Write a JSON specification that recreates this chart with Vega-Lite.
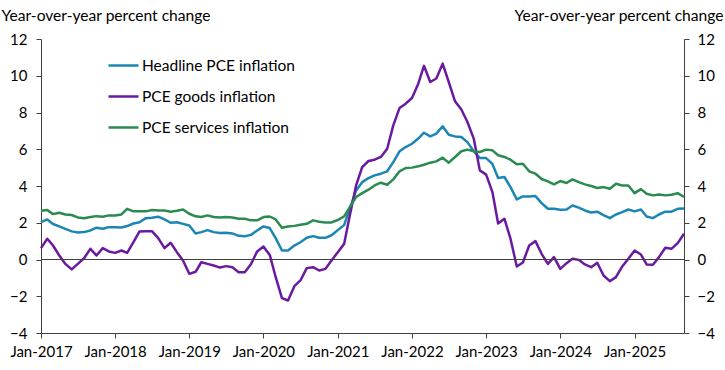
{
  "$schema": "https://vega.github.io/schema/vega-lite/v6.json",
  "width": 643,
  "height": 294,
  "autosize": {"type": "none"},
  "padding": {"left": 41, "top": 39, "right": 41, "bottom": 37},
  "background": "white",
  "config": {"view": {"stroke": null}, "font": "Lato"},
  "data": {"values": [
    {"date": "2017-01-01", "Headline PCE inflation": 2.03, "PCE goods inflation": 0.62, "PCE services inflation": 2.65},
    {"date": "2017-02-01", "Headline PCE inflation": 2.18, "PCE goods inflation": 1.13, "PCE services inflation": 2.69},
    {"date": "2017-03-01", "Headline PCE inflation": 1.93, "PCE goods inflation": 0.76, "PCE services inflation": 2.47},
    {"date": "2017-04-01", "Headline PCE inflation": 1.80, "PCE goods inflation": 0.22, "PCE services inflation": 2.54},
    {"date": "2017-05-01", "Headline PCE inflation": 1.67, "PCE goods inflation": -0.24, "PCE services inflation": 2.45},
    {"date": "2017-06-01", "Headline PCE inflation": 1.53, "PCE goods inflation": -0.54, "PCE services inflation": 2.42},
    {"date": "2017-07-01", "Headline PCE inflation": 1.47, "PCE goods inflation": -0.24, "PCE services inflation": 2.29},
    {"date": "2017-08-01", "Headline PCE inflation": 1.49, "PCE goods inflation": 0.07, "PCE services inflation": 2.25},
    {"date": "2017-09-01", "Headline PCE inflation": 1.58, "PCE goods inflation": 0.58, "PCE services inflation": 2.31},
    {"date": "2017-10-01", "Headline PCE inflation": 1.73, "PCE goods inflation": 0.22, "PCE services inflation": 2.36},
    {"date": "2017-11-01", "Headline PCE inflation": 1.67, "PCE goods inflation": 0.62, "PCE services inflation": 2.33},
    {"date": "2017-12-01", "Headline PCE inflation": 1.76, "PCE goods inflation": 0.44, "PCE services inflation": 2.40},
    {"date": "2018-01-01", "Headline PCE inflation": 1.76, "PCE goods inflation": 0.36, "PCE services inflation": 2.40},
    {"date": "2018-02-01", "Headline PCE inflation": 1.74, "PCE goods inflation": 0.49, "PCE services inflation": 2.45},
    {"date": "2018-03-01", "Headline PCE inflation": 1.82, "PCE goods inflation": 0.36, "PCE services inflation": 2.76},
    {"date": "2018-04-01", "Headline PCE inflation": 1.96, "PCE goods inflation": 0.94, "PCE services inflation": 2.62},
    {"date": "2018-05-01", "Headline PCE inflation": 2.03, "PCE goods inflation": 1.53, "PCE services inflation": 2.62},
    {"date": "2018-06-01", "Headline PCE inflation": 2.25, "PCE goods inflation": 1.54, "PCE services inflation": 2.62},
    {"date": "2018-07-01", "Headline PCE inflation": 2.27, "PCE goods inflation": 1.54, "PCE services inflation": 2.69},
    {"date": "2018-08-01", "Headline PCE inflation": 2.33, "PCE goods inflation": 1.16, "PCE services inflation": 2.67},
    {"date": "2018-09-01", "Headline PCE inflation": 2.18, "PCE goods inflation": 0.62, "PCE services inflation": 2.67},
    {"date": "2018-10-01", "Headline PCE inflation": 2.00, "PCE goods inflation": 0.91, "PCE services inflation": 2.60},
    {"date": "2018-11-01", "Headline PCE inflation": 2.03, "PCE goods inflation": 0.40, "PCE services inflation": 2.65},
    {"date": "2018-12-01", "Headline PCE inflation": 1.94, "PCE goods inflation": -0.05, "PCE services inflation": 2.72},
    {"date": "2019-01-01", "Headline PCE inflation": 1.85, "PCE goods inflation": -0.78, "PCE services inflation": 2.49},
    {"date": "2019-02-01", "Headline PCE inflation": 1.42, "PCE goods inflation": -0.67, "PCE services inflation": 2.35},
    {"date": "2019-03-01", "Headline PCE inflation": 1.49, "PCE goods inflation": -0.15, "PCE services inflation": 2.31},
    {"date": "2019-04-01", "Headline PCE inflation": 1.60, "PCE goods inflation": -0.24, "PCE services inflation": 2.40},
    {"date": "2019-05-01", "Headline PCE inflation": 1.49, "PCE goods inflation": -0.33, "PCE services inflation": 2.31},
    {"date": "2019-06-01", "Headline PCE inflation": 1.44, "PCE goods inflation": -0.44, "PCE services inflation": 2.29},
    {"date": "2019-07-01", "Headline PCE inflation": 1.45, "PCE goods inflation": -0.36, "PCE services inflation": 2.31},
    {"date": "2019-08-01", "Headline PCE inflation": 1.42, "PCE goods inflation": -0.42, "PCE services inflation": 2.29},
    {"date": "2019-09-01", "Headline PCE inflation": 1.29, "PCE goods inflation": -0.69, "PCE services inflation": 2.22},
    {"date": "2019-10-01", "Headline PCE inflation": 1.27, "PCE goods inflation": -0.69, "PCE services inflation": 2.22},
    {"date": "2019-11-01", "Headline PCE inflation": 1.34, "PCE goods inflation": -0.24, "PCE services inflation": 2.13},
    {"date": "2019-12-01", "Headline PCE inflation": 1.58, "PCE goods inflation": 0.44, "PCE services inflation": 2.13},
    {"date": "2020-01-01", "Headline PCE inflation": 1.80, "PCE goods inflation": 0.71, "PCE services inflation": 2.31},
    {"date": "2020-02-01", "Headline PCE inflation": 1.71, "PCE goods inflation": 0.25, "PCE services inflation": 2.34},
    {"date": "2020-03-01", "Headline PCE inflation": 1.16, "PCE goods inflation": -0.95, "PCE services inflation": 2.18},
    {"date": "2020-04-01", "Headline PCE inflation": 0.49, "PCE goods inflation": -2.10, "PCE services inflation": 1.73},
    {"date": "2020-05-01", "Headline PCE inflation": 0.49, "PCE goods inflation": -2.23, "PCE services inflation": 1.80},
    {"date": "2020-06-01", "Headline PCE inflation": 0.76, "PCE goods inflation": -1.45, "PCE services inflation": 1.83},
    {"date": "2020-07-01", "Headline PCE inflation": 0.94, "PCE goods inflation": -1.14, "PCE services inflation": 1.89},
    {"date": "2020-08-01", "Headline PCE inflation": 1.18, "PCE goods inflation": -0.47, "PCE services inflation": 1.94},
    {"date": "2020-09-01", "Headline PCE inflation": 1.27, "PCE goods inflation": -0.42, "PCE services inflation": 2.13},
    {"date": "2020-10-01", "Headline PCE inflation": 1.18, "PCE goods inflation": -0.60, "PCE services inflation": 2.05},
    {"date": "2020-11-01", "Headline PCE inflation": 1.18, "PCE goods inflation": -0.51, "PCE services inflation": 2.02},
    {"date": "2020-12-01", "Headline PCE inflation": 1.32, "PCE goods inflation": -0.05, "PCE services inflation": 2.02},
    {"date": "2021-01-01", "Headline PCE inflation": 1.60, "PCE goods inflation": 0.40, "PCE services inflation": 2.15},
    {"date": "2021-02-01", "Headline PCE inflation": 1.87, "PCE goods inflation": 0.85, "PCE services inflation": 2.35},
    {"date": "2021-03-01", "Headline PCE inflation": 2.76, "PCE goods inflation": 2.40, "PCE services inflation": 2.85},
    {"date": "2021-04-01", "Headline PCE inflation": 3.76, "PCE goods inflation": 4.03, "PCE services inflation": 3.40},
    {"date": "2021-05-01", "Headline PCE inflation": 4.21, "PCE goods inflation": 5.03, "PCE services inflation": 3.61},
    {"date": "2021-06-01", "Headline PCE inflation": 4.43, "PCE goods inflation": 5.36, "PCE services inflation": 3.80},
    {"date": "2021-07-01", "Headline PCE inflation": 4.58, "PCE goods inflation": 5.43, "PCE services inflation": 4.03},
    {"date": "2021-08-01", "Headline PCE inflation": 4.67, "PCE goods inflation": 5.58, "PCE services inflation": 4.18},
    {"date": "2021-09-01", "Headline PCE inflation": 4.80, "PCE goods inflation": 6.03, "PCE services inflation": 4.07},
    {"date": "2021-10-01", "Headline PCE inflation": 5.30, "PCE goods inflation": 7.30, "PCE services inflation": 4.36},
    {"date": "2021-11-01", "Headline PCE inflation": 5.89, "PCE goods inflation": 8.25, "PCE services inflation": 4.80},
    {"date": "2021-12-01", "Headline PCE inflation": 6.12, "PCE goods inflation": 8.48, "PCE services inflation": 4.98},
    {"date": "2022-01-01", "Headline PCE inflation": 6.30, "PCE goods inflation": 8.79, "PCE services inflation": 5.00},
    {"date": "2022-02-01", "Headline PCE inflation": 6.58, "PCE goods inflation": 9.57, "PCE services inflation": 5.07},
    {"date": "2022-03-01", "Headline PCE inflation": 6.90, "PCE goods inflation": 10.54, "PCE services inflation": 5.16},
    {"date": "2022-04-01", "Headline PCE inflation": 6.70, "PCE goods inflation": 9.66, "PCE services inflation": 5.27},
    {"date": "2022-05-01", "Headline PCE inflation": 6.85, "PCE goods inflation": 9.85, "PCE services inflation": 5.34},
    {"date": "2022-06-01", "Headline PCE inflation": 7.25, "PCE goods inflation": 10.66, "PCE services inflation": 5.54},
    {"date": "2022-07-01", "Headline PCE inflation": 6.79, "PCE goods inflation": 9.66, "PCE services inflation": 5.27},
    {"date": "2022-08-01", "Headline PCE inflation": 6.70, "PCE goods inflation": 8.61, "PCE services inflation": 5.58},
    {"date": "2022-09-01", "Headline PCE inflation": 6.67, "PCE goods inflation": 8.16, "PCE services inflation": 5.89},
    {"date": "2022-10-01", "Headline PCE inflation": 6.39, "PCE goods inflation": 7.48, "PCE services inflation": 5.98},
    {"date": "2022-11-01", "Headline PCE inflation": 5.89, "PCE goods inflation": 6.58, "PCE services inflation": 5.89},
    {"date": "2022-12-01", "Headline PCE inflation": 5.52, "PCE goods inflation": 4.85, "PCE services inflation": 5.85},
    {"date": "2023-01-01", "Headline PCE inflation": 5.52, "PCE goods inflation": 4.62, "PCE services inflation": 5.98},
    {"date": "2023-02-01", "Headline PCE inflation": 5.20, "PCE goods inflation": 3.67, "PCE services inflation": 5.94},
    {"date": "2023-03-01", "Headline PCE inflation": 4.44, "PCE goods inflation": 1.96, "PCE services inflation": 5.67},
    {"date": "2023-04-01", "Headline PCE inflation": 4.49, "PCE goods inflation": 2.22, "PCE services inflation": 5.58},
    {"date": "2023-05-01", "Headline PCE inflation": 3.94, "PCE goods inflation": 1.13, "PCE services inflation": 5.43},
    {"date": "2023-06-01", "Headline PCE inflation": 3.27, "PCE goods inflation": -0.38, "PCE services inflation": 5.18},
    {"date": "2023-07-01", "Headline PCE inflation": 3.43, "PCE goods inflation": -0.16, "PCE services inflation": 5.21},
    {"date": "2023-08-01", "Headline PCE inflation": 3.43, "PCE goods inflation": 0.76, "PCE services inflation": 4.80},
    {"date": "2023-09-01", "Headline PCE inflation": 3.45, "PCE goods inflation": 1.00, "PCE services inflation": 4.67},
    {"date": "2023-10-01", "Headline PCE inflation": 3.07, "PCE goods inflation": 0.31, "PCE services inflation": 4.38},
    {"date": "2023-11-01", "Headline PCE inflation": 2.76, "PCE goods inflation": -0.24, "PCE services inflation": 4.25},
    {"date": "2023-12-01", "Headline PCE inflation": 2.76, "PCE goods inflation": 0.13, "PCE services inflation": 4.09},
    {"date": "2024-01-01", "Headline PCE inflation": 2.71, "PCE goods inflation": -0.51, "PCE services inflation": 4.27},
    {"date": "2024-02-01", "Headline PCE inflation": 2.72, "PCE goods inflation": -0.20, "PCE services inflation": 4.16},
    {"date": "2024-03-01", "Headline PCE inflation": 2.94, "PCE goods inflation": 0.04, "PCE services inflation": 4.36},
    {"date": "2024-04-01", "Headline PCE inflation": 2.82, "PCE goods inflation": -0.02, "PCE services inflation": 4.21},
    {"date": "2024-05-01", "Headline PCE inflation": 2.67, "PCE goods inflation": -0.27, "PCE services inflation": 4.09},
    {"date": "2024-06-01", "Headline PCE inflation": 2.56, "PCE goods inflation": -0.42, "PCE services inflation": 4.00},
    {"date": "2024-07-01", "Headline PCE inflation": 2.60, "PCE goods inflation": -0.18, "PCE services inflation": 3.89},
    {"date": "2024-08-01", "Headline PCE inflation": 2.42, "PCE goods inflation": -0.87, "PCE services inflation": 3.94},
    {"date": "2024-09-01", "Headline PCE inflation": 2.25, "PCE goods inflation": -1.18, "PCE services inflation": 3.85},
    {"date": "2024-10-01", "Headline PCE inflation": 2.45, "PCE goods inflation": -0.96, "PCE services inflation": 4.12},
    {"date": "2024-11-01", "Headline PCE inflation": 2.58, "PCE goods inflation": -0.38, "PCE services inflation": 4.03},
    {"date": "2024-12-01", "Headline PCE inflation": 2.72, "PCE goods inflation": 0.04, "PCE services inflation": 4.03},
    {"date": "2025-01-01", "Headline PCE inflation": 2.62, "PCE goods inflation": 0.49, "PCE services inflation": 3.61},
    {"date": "2025-02-01", "Headline PCE inflation": 2.72, "PCE goods inflation": 0.27, "PCE services inflation": 3.83},
    {"date": "2025-03-01", "Headline PCE inflation": 2.34, "PCE goods inflation": -0.27, "PCE services inflation": 3.58},
    {"date": "2025-04-01", "Headline PCE inflation": 2.25, "PCE goods inflation": -0.29, "PCE services inflation": 3.49},
    {"date": "2025-05-01", "Headline PCE inflation": 2.45, "PCE goods inflation": 0.13, "PCE services inflation": 3.54},
    {"date": "2025-06-01", "Headline PCE inflation": 2.60, "PCE goods inflation": 0.64, "PCE services inflation": 3.49},
    {"date": "2025-07-01", "Headline PCE inflation": 2.60, "PCE goods inflation": 0.58, "PCE services inflation": 3.52},
    {"date": "2025-08-01", "Headline PCE inflation": 2.76, "PCE goods inflation": 0.89, "PCE services inflation": 3.61},
    {"date": "2025-09-01", "Headline PCE inflation": 2.78, "PCE goods inflation": 1.40, "PCE services inflation": 3.40}
  ]},
  "layer": [
    {
      "transform": [{"fold": ["Headline PCE inflation", "PCE goods inflation", "PCE services inflation"], "as": ["series", "value"]}],
      "mark": {"type": "line", "strokeWidth": 2.5, "strokeJoin": "round"},
      "encoding": {
        "x": {
          "field": "date", "type": "temporal",
          "scale": {"type": "utc", "domain": [1483228800000, 1756684800000]},
          "axis": {
            "values": [1483228800000, 1514764800000, 1546300800000, 1577836800000, 1609459200000, 1640995200000, 1672531200000, 1704067200000, 1735689600000],
            "labelExpr": "utcFormat(datum.value, '%b-%Y')", "title": null, "grid": false,
            "domainColor": "#404040", "domainWidth": 1, "tickColor": "#404040", "tickSize": 5,
            "labelFontSize": 15, "labelColor": "#000000", "labelPadding": 6, "labelFlush": false, "labelOverlap": false, "labelFont": "Lato"
          }
        },
        "y": {
          "field": "value", "type": "quantitative",
          "scale": {"domain": [-4, 12], "nice": false},
          "axis": {
            "values": [-4, -2, 0, 2, 4, 6, 8, 10, 12], "grid": false,
            "title": "Year-over-year percent change", "titleAngle": 0, "titleAlign": "left", "titleBaseline": "alphabetic",
            "titleX": -40, "titleY": -19, "titleFontSize": 15.6, "titleFontWeight": "normal", "titleColor": "#000000", "titleFont": "Lato",
            "domainColor": "#404040", "tickColor": "#404040", "tickSize": 5,
            "labelFontSize": 15, "labelColor": "#000000", "labelPadding": 9, "labelFont": "Lato"
          }
        },
        "color": {
          "field": "series", "type": "nominal",
          "scale": {"domain": ["Headline PCE inflation", "PCE goods inflation", "PCE services inflation"], "range": ["#1B86B4", "#6A1AA0", "#2B8A4F"]},
          "legend": {
            "title": null, "orient": "none", "legendX": 66, "legendY": 10,
            "symbolType": "stroke", "symbolSize": 900, "symbolStrokeWidth": 2.5,
            "labelFontSize": 15.5, "labelColor": "#000000", "labelFont": "Lato", "rowPadding": 6, "labelOffset": 2
          }
        }
      }
    },
    {
      "data": {"values": [{}]},
      "mark": {"type": "rule", "color": "#404040", "strokeWidth": 1},
      "encoding": {
        "y": {
          "datum": 0, "type": "quantitative",
          "scale": {"domain": [-4, 12], "nice": false},
          "axis": {
            "orient": "right", "values": [-4, -2, 0, 2, 4, 6, 8, 10, 12], "grid": false,
            "title": "Year-over-year percent change", "titleAngle": 0, "titleAlign": "right", "titleBaseline": "alphabetic",
            "titleX": 39, "titleY": -19, "titleFontSize": 15.6, "titleFontWeight": "normal", "titleColor": "#000000", "titleFont": "Lato",
            "domainColor": "#404040", "tickColor": "#404040", "tickSize": 5,
            "labelFontSize": 15, "labelColor": "#000000", "labelPadding": 8, "labelFont": "Lato"
          }
        }
      }
    }
  ],
  "resolve": {"scale": {"y": "independent"}}
}
